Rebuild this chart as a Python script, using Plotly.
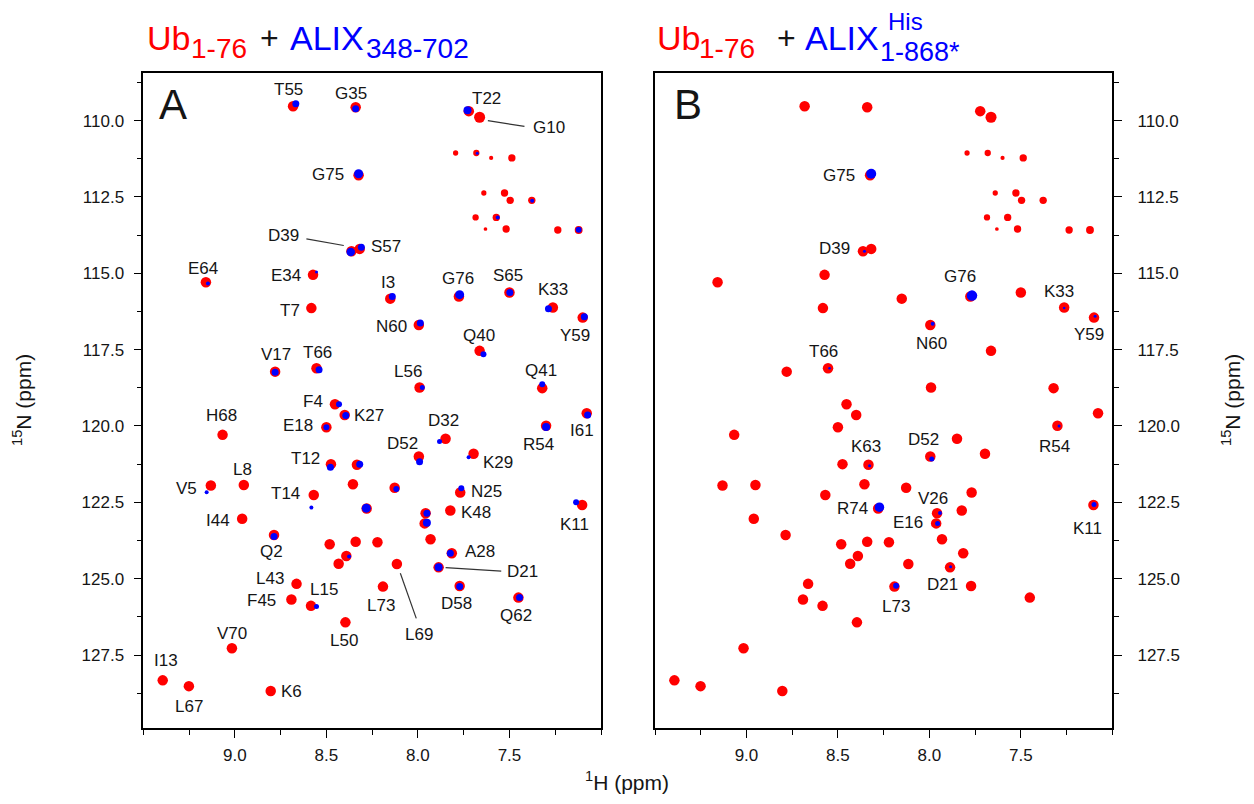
import plotly.graph_objects as go

# ---------------- data (ppm) ----------------
# Free ubiquitin (red) peaks: 1H, 15N, relative intensity
red_res = ["T55","G35","G75","D39","S57","E64","E34","T7","V17","T66","F4","T22","G10",
           "sc","sc","sc","sc","sc","sc","sc","sc","sc","sc","sc","sc","sc","sc",
           "I3","G76","S65","K33","Y59","N60","Q40","L56","Q41","K27","E18","H68","T12","K63",
           "V5","L8","x1","T14","R74","I44","Q2","x2","x3","x4","x5","x6","L43","F45","L15","L73",
           "L50","V70","I13","L67","K6","D32","D52","K29","R54","I61","x7","N25","K11","K48",
           "V26","E16","x8","A28","L69","D21","D58","Q62"]
red_H = [8.682,8.340,8.324,8.363,8.318,9.158,8.573,8.582,8.780,8.554,8.453,7.722,7.663,
         7.794,7.681,7.600,7.487,7.640,7.527,7.496,7.378,7.685,7.572,7.631,7.518,7.236,7.122,
         8.151,7.776,7.500,7.263,7.100,7.995,7.663,7.991,7.321,8.400,8.500,9.067,8.475,8.333,
         9.131,8.951,8.355,8.569,8.280,8.960,8.786,8.482,8.340,8.221,8.391,8.433,8.663,8.691,8.584,8.191,
         8.396,9.016,9.394,9.251,8.804,7.849,7.995,7.696,7.300,7.078,8.127,7.769,7.103,7.823,
         7.958,7.963,7.931,7.815,8.115,7.887,7.772,7.451]
red_N = [109.53,109.56,111.79,114.28,114.20,115.29,115.05,116.14,118.22,118.11,119.29,109.69,109.89,
         111.06,111.06,111.22,111.22,112.37,112.37,112.61,112.61,113.17,113.17,113.55,113.55,113.58,113.58,
         115.83,115.76,115.63,116.12,116.45,116.69,117.54,118.74,118.76,119.64,120.04,120.29,121.25,121.27,
         121.95,121.93,121.91,122.26,122.70,123.04,123.57,123.87,123.79,123.81,124.26,124.51,125.17,125.68,125.89,125.26,
         126.43,127.28,128.33,128.52,128.68,120.42,121.00,120.91,119.99,119.58,122.02,122.18,122.59,122.77,
         122.86,123.19,123.71,124.17,124.52,124.63,125.24,125.62]
red_I = [1.0,1.0,1.0,1.0,1.0,1.0,1.0,1.0,1.0,1.0,1.0,1.0,1.05,
         0.5,0.6,0.4,0.7,0.5,0.7,0.7,0.7,0.6,0.7,0.35,0.7,0.7,0.75,
         1.0,1.0,1.0,1.0,1.0,1.0,1.0,1.0,1.0,1.0,1.0,1.0,1.0,1.0,
         1.0,1.0,1.0,1.0,1.0,1.0,1.0,1.0,1.0,1.0,1.0,1.0,1.0,1.0,1.0,1.0,
         1.0,1.0,1.0,1.0,1.0,1.0,1.0,1.0,1.0,1.0,1.0,1.0,1.0,1.0,
         1.0,1.0,1.0,1.0,1.0,1.0,1.0,1.0]

# Ub + ALIX 348-702 (blue, panel A)
blueA_H = [8.667,8.340,8.324,8.367,8.309,9.147,8.554,8.780,8.540,8.431,7.729,7.676,7.376,7.564,7.122,
           8.140,7.772,7.498,7.287,7.091,7.987,7.642,7.976,7.321,8.394,8.500,8.478,8.318,9.154,8.582,
           8.282,8.786,8.376,8.554,7.882,7.991,7.723,7.300,7.073,8.118,7.763,7.136,7.951,7.951,7.823,
           7.887,7.772,7.445]
blueA_N = [109.45,109.61,111.74,114.30,114.15,115.33,114.96,118.24,118.16,119.29,109.66,111.07,112.62,113.17,113.57,
           115.76,115.70,115.63,116.16,116.42,116.63,117.65,118.74,118.63,119.66,120.04,121.35,121.25,122.17,122.67,
           122.69,123.62,124.27,125.91,120.51,121.17,121.02,120.03,119.64,122.06,122.04,122.50,122.86,123.17,124.17,
           124.63,125.26,125.62]
blueA_I = [0.7,0.7,0.9,0.85,0.7,0.4,0.3,0.7,0.7,0.6,0.8,0.3,0.4,0.4,0.6,
           0.7,0.9,0.7,0.7,0.7,0.7,0.6,0.5,0.6,0.7,0.6,0.7,0.7,0.4,0.4,
           0.9,0.7,0.4,0.5,0.5,0.7,0.4,0.8,0.7,0.6,0.6,0.6,0.7,0.8,0.7,
           0.8,0.7,0.7]

# Ub + ALIX(His) 1-868* (blue, panel B)
blueB_res = ["G75","D39","T66","G76","N60","K33","Y59","K63","R74","D52","R54","V26","E16","K11","D21","L73"]
blueB_H = [8.318,8.355,8.546,7.767,7.982,7.263,7.094,8.327,8.273,7.987,7.291,7.942,7.955,7.100,7.884,8.182]
blueB_N = [111.74,114.28,118.11,115.73,116.65,116.14,116.41,121.30,122.66,121.08,120.00,122.85,123.19,122.57,124.61,125.23]
blueB_I = [1.0,0.3,0.25,1.05,0.4,0.25,0.3,0.3,0.95,0.5,0.3,0.4,0.5,0.5,0.3,0.6]

# residue labels (text, 1H, 15N placement)
labA_text = ["T55","G35","G75","D39","S57","E64","E34","T7","V17","T66","F4","K27","E18","H68","T12","V5","L8",
             "T14","I44","Q2","L43","F45","L15","L50","V70","I13","L67","K6","L73","T22","G10","I3","G76","S65",
             "K33","Y59","N60","Q40","L56","Q41","D32","D52","K29","R54","I61","N25","K11","K48","A28","L69",
             "D21","D58","Q62"]
labA_H = [8.709,8.363,8.491,8.733,8.173,9.173,8.723,8.700,8.773,8.551,8.573,8.266,8.655,9.073,8.614,9.264,8.958,
          8.722,9.091,8.800,8.809,8.854,8.513,8.404,9.013,9.376,9.249,8.691,8.201,7.624,7.285,8.164,7.782,7.509,
          7.263,7.141,8.145,7.667,8.055,7.327,7.860,8.082,7.564,7.340,7.105,7.627,7.145,7.685,7.663,7.995,
          7.427,7.787,7.467]
labA_N = [108.98,109.12,111.77,113.76,114.12,114.83,115.07,116.23,117.65,117.58,119.20,119.64,119.99,119.66,121.08,122.06,121.41,
          122.20,123.11,124.12,125.01,125.73,125.37,127.01,126.79,127.67,129.18,128.71,125.89,109.29,110.24,115.29,115.16,115.07,
          115.54,117.04,116.74,117.04,118.22,118.19,119.83,120.56,121.19,120.60,120.16,122.15,123.24,122.83,124.12,126.82,
          124.77,125.81,126.19]
labB_text = ["G75","D39","T66","G76","N60","K33","Y59","K63","R74","D52","R54","V26","E16","K11","D21","L73"]
labB_H = [8.494,8.518,8.578,7.831,7.991,7.291,7.127,8.345,8.418,8.033,7.314,7.982,8.118,7.136,7.927,8.182]
labB_N = [111.79,114.20,117.56,115.11,117.29,115.61,117.02,120.68,122.69,120.44,120.68,122.39,123.17,123.35,125.19,125.92]

# leader lines in panel A: (H0, N0, H1, N1)
leadA_H0 = [8.609, 7.618, 8.096, 7.849]
leadA_N0 = [113.87, 110.00, 124.82, 124.64]
leadA_H1 = [8.405, 7.418, 8.009, 7.545]
leadA_N1 = [114.09, 110.19, 126.30, 124.75]

H_RANGE = [9.5, 7.0]
N_RANGE = [129.9, 108.45]
H_TICKS = [9.0, 8.5, 8.0, 7.5]
N_TICKS = [110.0, 112.5, 115.0, 117.5, 120.0, 122.5, 125.0, 127.5]

# ---------------- figure ----------------
OFF = 8                      # page body margin of the html page
W, Hh = 1254 - 2 * OFF, 804 - 2 * OFF
FONT = "Liberation Sans, Arial, sans-serif"
RED, BLUE, INK = "#ff0000", "#0000ff", "#151515"

def px(x):
    return (x - OFF) / W

def py(y):
    return 1 - (y - OFF) / Hh

fig = go.Figure()

for xa, ya in (("x", "y"), ("x2", "y2")):
    fig.add_trace(go.Scatter(x=red_H, y=red_N, mode="markers", xaxis=xa, yaxis=ya,
                             marker=dict(color=RED, opacity=1, size=[10.5 * v for v in red_I], line=dict(width=0)),
                             hoverinfo="skip", showlegend=False))

fig.add_trace(go.Scatter(x=blueA_H, y=blueA_N, mode="markers", xaxis="x", yaxis="y",
                         marker=dict(color=BLUE, opacity=1, size=[10 * v for v in blueA_I], line=dict(width=0)),
                         hoverinfo="skip", showlegend=False))
fig.add_trace(go.Scatter(x=blueB_H, y=blueB_N, mode="markers", xaxis="x2", yaxis="y2",
                         marker=dict(color=BLUE, opacity=1, size=[10 * v for v in blueB_I], line=dict(width=0)),
                         hoverinfo="skip", showlegend=False))

for t, h, n in zip(labA_text, labA_H, labA_N):
    fig.add_annotation(x=h, y=n, xref="x", yref="y", text=t, showarrow=False,
                       xanchor="center", yanchor="middle",
                       font=dict(family=FONT, size=17, color=INK))
for t, h, n in zip(labB_text, labB_H, labB_N):
    fig.add_annotation(x=h, y=n, xref="x2", yref="y2", text=t, showarrow=False,
                       xanchor="center", yanchor="middle",
                       font=dict(family=FONT, size=17, color=INK))
for h0, n0, h1, n1 in zip(leadA_H0, leadA_N0, leadA_H1, leadA_N1):
    fig.add_shape(type="line", xref="x", yref="y", x0=h0, y0=n0, x1=h1, y1=n1,
                  line=dict(color="#333333", width=1.2))

def note(text, x, y, size, color=INK, angle=0, xanchor="center"):
    fig.add_annotation(x=px(x), y=py(y), xref="paper", yref="paper", text=text, showarrow=False,
                       xanchor=xanchor, yanchor="middle", textangle=angle,
                       font=dict(family=FONT, size=size, color=color))

# panel letters
note("A", 173, 104, 42)
note("B", 688, 104, 42)

# titles
note("Ub", 145, 38, 34, RED, xanchor="left")
note("1-76", 189, 48, 28, RED, xanchor="left")
note("+", 258, 38, 32, INK, xanchor="left")
note("ALIX", 288, 38, 34, BLUE, xanchor="left")
note("348-702", 364, 48, 28, BLUE, xanchor="left")

note("Ub", 655, 38, 34, RED, xanchor="left")
note("1-76", 697, 48, 28, RED, xanchor="left")
note("+", 775, 38, 32, INK, xanchor="left")
note("ALIX", 803, 38, 34, BLUE, xanchor="left")
note("His", 886, 22, 24, BLUE, xanchor="left")
note("1-868*", 878, 52, 27, BLUE, xanchor="left")

# axis titles
note("<sup>1</sup>H (ppm)", 627, 781, 21)
note("<sup>15</sup>N (ppm)", 22, 400, 21, angle=-90)
note("<sup>15</sup>N (ppm)", 1231, 400, 21, angle=-90)

xcommon = dict(range=H_RANGE, tickmode="array", tickvals=H_TICKS, ticktext=[f"{v:.1f}" for v in H_TICKS],
               ticks="outside", ticklen=8, automargin=False, ticklabelstandoff=3,
               tickwidth=1.3, tickcolor="black", showline=True, linecolor="black", linewidth=1.5,
               mirror=True, showgrid=False, zeroline=False,
               tickfont=dict(family=FONT, size=17, color=INK),
               minor=dict(tickmode="linear", tick0=7.0, dtick=0.25, ticks="outside", ticklen=5, tickwidth=1.2,
                          tickcolor="black", showgrid=False))
ycommon = dict(range=N_RANGE, tickmode="array", tickvals=N_TICKS, ticktext=[f"{v:.1f}" for v in N_TICKS],
               ticks="outside", ticklen=8, automargin=False,
               tickwidth=1.3, tickcolor="black", showline=True, linecolor="black", linewidth=1.5,
               mirror=True, showgrid=False, zeroline=False,
               tickfont=dict(family=FONT, size=17, color=INK),
               minor=dict(tickmode="linear", tick0=110, dtick=1.25, ticks="outside", ticklen=5, tickwidth=1.2,
                          tickcolor="black", showgrid=False))

y0, y1 = py(728.3), py(73.3)
fig.update_layout(
    template="none",
    width=W, height=Hh, autosize=False,
    margin=dict(l=0, r=0, t=0, b=0, pad=0),
    paper_bgcolor="white", plot_bgcolor="white",
    xaxis=dict(domain=[px(143.3), px(601)], anchor="y", **xcommon),
    yaxis=dict(domain=[y0, y1], anchor="x", side="left", ticklabelstandoff=6, **ycommon),
    xaxis2=dict(domain=[px(655), px(1112.3)], anchor="y2", **xcommon),
    yaxis2=dict(domain=[y0, y1], anchor="x2", side="right", ticklabelstandoff=12, **ycommon),
)

fig.write_html("out.html")
